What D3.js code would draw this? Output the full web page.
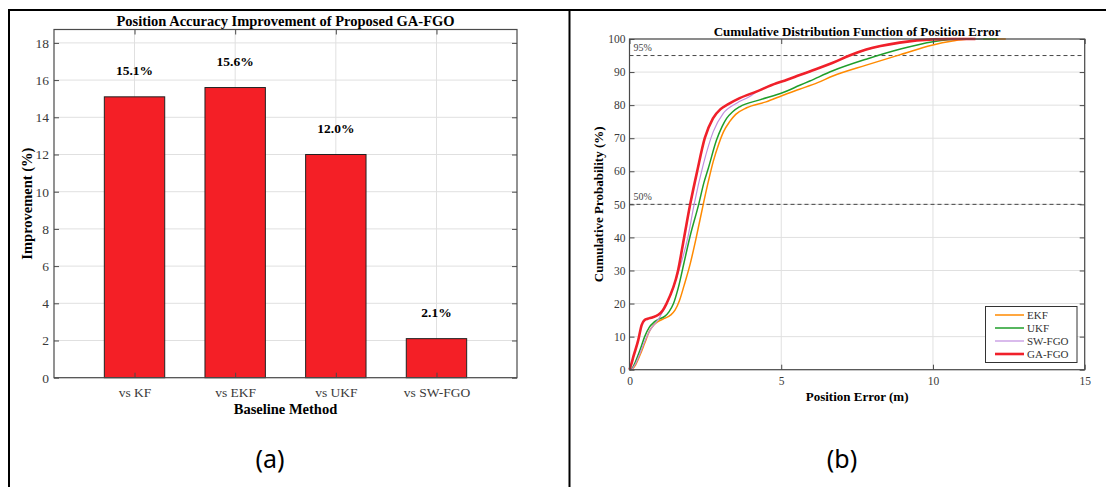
<!DOCTYPE html>
<html>
<head>
<meta charset="utf-8">
<script src="https://cdn.jsdelivr.net/npm/d3@7"></script>
<style>
  body { margin: 0; background: #fff; }
  svg text { font-family: "Liberation Serif", "Times New Roman", serif; }
</style>
</head>
<body>
<div id="chart"></div>
<script>
// (a) improvement bars
var methods = ["vs KF", "vs EKF", "vs UKF", "vs SW-FGO"];
var improvement = [15.1, 15.6, 12.0, 2.1];
var barTicks = [0, 2, 4, 6, 8, 10, 12, 14, 16, 18];

// (b) CDF curves
var cdfNames = ["EKF", "UKF", "SW-FGO", "GA-FGO"];
var ekfError = [0, 0.1, 0.2, 0.35, 0.5, 0.65, 0.8, 0.95, 1.15, 1.35, 1.5, 1.65, 1.8, 2.0, 2.2, 2.43, 2.6, 2.76, 2.95, 3.1, 3.3, 3.5, 3.86, 4.5, 5.06, 5.6, 6.2, 6.7, 7.8, 8.9, 10.0, 10.6, 11.1, 12.4];
var ekfProb  = [0, 0.3, 1.5, 4.5, 8, 11.5, 13.5, 14.6, 15.5, 16.5, 18, 21, 25.5, 32, 40, 50, 57, 63, 68.5, 72, 75, 77.2, 79.2, 81, 83, 84.8, 86.8, 88.8, 92.1, 95.2, 98.2, 99.3, 99.9, 100];
var ukfError = [0, 0.1, 0.2, 0.35, 0.5, 0.65, 0.8, 0.95, 1.17, 1.3, 1.45, 1.6, 1.8, 2.0, 2.28, 2.45, 2.6, 2.87, 3.05, 3.2, 3.4, 3.63, 4.29, 5.06, 5.61, 5.94, 6.7, 7.8, 8.9, 10.0, 10.9, 12.1];
var ukfProb  = [0, 0.6, 2.5, 6, 10, 12.8, 14.3, 15.2, 16.2, 17.5, 20, 24.5, 32.5, 40.5, 50, 56.5, 61, 69.5, 73.5, 76, 78, 79.5, 81.6, 83.8, 86, 87.3, 90.4, 93.9, 96.9, 99.2, 100, 100];
var swError  = [0, 0.1, 0.2, 0.35, 0.5, 0.65, 0.8, 0.95, 1.06, 1.28, 1.61, 1.93, 2.13, 2.43, 2.76, 3.09, 3.53, 3.96, 4.18, 4.84, 5.17, 5.61, 5.94, 6.7, 7.25, 7.8, 8.9, 10.0, 10.6, 11.65];
var swProb   = [0, 0.4, 1.8, 5, 8.5, 11.5, 13.5, 15.2, 17, 21, 29.5, 40.3, 50, 62, 72, 77.5, 80.6, 82.6, 84.0, 86.6, 87.6, 89.1, 90.2, 92.8, 95, 96.8, 98.9, 99.9, 100, 100];
var gaError  = [0, 0.07, 0.13, 0.29, 0.4, 0.5, 0.6, 0.75, 0.95, 1.1, 1.22, 1.6, 1.8, 2.0, 2.23, 2.48, 2.75, 3.0, 3.24, 3.63, 4.18, 4.84, 5.17, 5.61, 5.94, 6.7, 7.25, 7.8, 8.9, 10.0, 10.6, 11.4];
var gaProb   = [0, 2, 4, 9, 13.5, 15, 15.4, 15.8, 16.6, 18, 20, 30, 40, 50, 60, 70, 76, 78.8, 80.2, 82.1, 84.1, 86.6, 87.6, 89.1, 90.2, 92.8, 95, 96.8, 98.9, 99.9, 100, 100];
var cdfTicksX = [0, 5, 10, 15];
var cdfTicksY = [0, 10, 20, 30, 40, 50, 60, 70, 80, 90, 100];
var refLevels = [95, 50];

var SERIF = "Liberation Serif, Times New Roman, serif",
    BAR_FILL = "#f41f26",
    AXIS_COLOR = "#4a4a4a",
    GRID_COLOR = "#e0e0e0",
    TICK_TEXT = "#3a3a3a",
    cdfColors = ["#ff8a00", "#1f9e2a", "#c08ee0", "#f0202a"],
    cdfWidths = [1.5, 1.5, 1.2, 2.6];

var svg = d3.select("#chart").append("svg")
  .attr("width", 1106)
  .attr("height", 487);

// figure frame
svg.append("line").attr("x1", 8).attr("x2", 1106).attr("y1", 10).attr("y2", 10)
  .attr("stroke", "#000").attr("stroke-width", 2);
svg.append("line").attr("x1", 9).attr("x2", 9).attr("y1", 9).attr("y2", 487)
  .attr("stroke", "#000").attr("stroke-width", 2);
svg.append("line").attr("x1", 569.5).attr("x2", 569.5).attr("y1", 9).attr("y2", 487)
  .attr("stroke", "#000").attr("stroke-width", 2);

function styleAxis(g) {
  g.attr("font-family", SERIF);
  g.select(".domain").remove();
  g.selectAll(".tick line").attr("stroke", AXIS_COLOR);
  g.selectAll(".tick text").attr("fill", TICK_TEXT).style("font-family", SERIF);
}

// ---------- (a) bar chart ----------
var a = {left: 54, right: 517, top: 29.5, bottom: 377.7};
var x = d3.scalePoint().domain(methods).range([a.left, a.right]).padding(0.8);
var y = d3.scaleLinear().domain([0, 18.72]).range([a.bottom, a.top]);
var barW = x.step() * 0.6;
var ga = svg.append("g");

// grid
ga.selectAll("line.hgrid").data(barTicks).enter().append("line")
  .attr("x1", a.left).attr("x2", a.right)
  .attr("y1", function(d) { return y(d); }).attr("y2", function(d) { return y(d); })
  .attr("stroke", GRID_COLOR);
ga.selectAll("line.vgrid").data(methods).enter().append("line")
  .attr("x1", function(d) { return x(d); }).attr("x2", function(d) { return x(d); })
  .attr("y1", a.top).attr("y2", a.bottom)
  .attr("stroke", GRID_COLOR);

// bars
ga.selectAll("rect.bar").data(improvement).enter().append("rect")
  .attr("x", function(d, i) { return x(methods[i]) - barW / 2; })
  .attr("y", function(d) { return y(d); })
  .attr("width", barW)
  .attr("height", function(d) { return y(0) - y(d); })
  .attr("fill", BAR_FILL)
  .attr("stroke", "#222")
  .attr("stroke-width", 1);

// axes
ga.append("g").attr("transform", "translate(" + a.left + ",0)")
  .call(d3.axisLeft(y).tickValues(barTicks).tickSizeInner(-5).tickSizeOuter(0).tickPadding(5))
  .attr("font-size", 13.5).call(styleAxis);
ga.append("g").attr("transform", "translate(" + a.right + ",0)")
  .call(d3.axisRight(y).tickValues(barTicks).tickSizeInner(-5).tickSizeOuter(0).tickFormat(""))
  .call(styleAxis);
ga.append("g").attr("transform", "translate(0," + a.bottom + ")")
  .call(d3.axisBottom(x).tickSizeInner(-5).tickSizeOuter(0).tickPadding(10))
  .attr("font-size", 13.5).call(styleAxis);
ga.append("g").attr("transform", "translate(0," + a.top + ")")
  .call(d3.axisTop(x).tickSizeInner(-5).tickSizeOuter(0).tickFormat(""))
  .call(styleAxis);
ga.append("rect")
  .attr("x", a.left).attr("y", a.top)
  .attr("width", a.right - a.left).attr("height", a.bottom - a.top)
  .attr("fill", "none").attr("stroke", AXIS_COLOR).attr("stroke-width", 1.2);

// value labels
ga.selectAll("text.val").data(improvement).enter().append("text")
  .attr("x", function(d, i) { return x(methods[i]); })
  .attr("y", function(d) { return y(d + 1.15); })
  .attr("text-anchor", "middle")
  .attr("font-weight", "bold")
  .attr("font-size", 13.5)
  .text(function(d) { return d.toFixed(1) + "%"; });

ga.append("text")
  .attr("x", (a.left + a.right) / 2).attr("y", 25.5)
  .attr("text-anchor", "middle").attr("font-weight", "bold").attr("font-size", 14.5)
  .text("Position Accuracy Improvement of Proposed GA-FGO");
ga.append("text")
  .attr("x", (a.left + a.right) / 2).attr("y", 414)
  .attr("text-anchor", "middle").attr("font-weight", "bold").attr("font-size", 14.5)
  .text("Baseline Method");
ga.append("text")
  .attr("transform", "translate(32," + ((a.top + a.bottom) / 2) + ") rotate(-90)")
  .attr("text-anchor", "middle").attr("font-weight", "bold").attr("font-size", 14.5)
  .text("Improvement (%)");
ga.append("text")
  .attr("x", 270).attr("y", 468)
  .attr("text-anchor", "middle").attr("font-size", 25)
  .style("font-family", "'Noto Sans', sans-serif")
  .text("(a)");

// ---------- (b) CDF ----------
var b = {left: 629.5, right: 1084.7, top: 39, bottom: 369.7};
var xe = d3.scaleLinear().domain([0, 15]).range([b.left, b.right]);
var yp = d3.scaleLinear().domain([0, 100]).range([b.bottom, b.top]);
var gb = svg.append("g");

gb.selectAll("line.hgrid").data(cdfTicksY).enter().append("line")
  .attr("x1", b.left).attr("x2", b.right)
  .attr("y1", function(d) { return yp(d); }).attr("y2", function(d) { return yp(d); })
  .attr("stroke", GRID_COLOR);
gb.selectAll("line.vgrid").data(cdfTicksX).enter().append("line")
  .attr("x1", function(d) { return xe(d); }).attr("x2", function(d) { return xe(d); })
  .attr("y1", b.top).attr("y2", b.bottom)
  .attr("stroke", GRID_COLOR);

// reference levels
gb.selectAll("line.ref").data(refLevels).enter().append("line")
  .attr("x1", b.left).attr("x2", b.right)
  .attr("y1", function(d) { return yp(d); }).attr("y2", function(d) { return yp(d); })
  .attr("stroke", "#333").attr("stroke-width", 0.9).attr("stroke-dasharray", "4,3");
gb.selectAll("text.ref").data(refLevels).enter().append("text")
  .attr("x", b.left + 4)
  .attr("y", function(d) { return yp(d) - 4.5; })
  .attr("font-size", 10).attr("fill", "#444")
  .text(function(d) { return d + "%"; });

var cdfData = [
  d3.zip(ekfError, ekfProb),
  d3.zip(ukfError, ukfProb),
  d3.zip(swError, swProb),
  d3.zip(gaError, gaProb)
];
var line = d3.line()
  .x(function(d) { return xe(d[0]); })
  .y(function(d) { return yp(d[1]); })
  .curve(d3.curveMonotoneX);

gb.selectAll("path.cdf").data(cdfData).enter().append("path")
  .attr("d", line)
  .attr("fill", "none")
  .attr("stroke", function(d, i) { return cdfColors[i]; })
  .attr("stroke-width", function(d, i) { return cdfWidths[i]; })
  .attr("stroke-linejoin", "round");

gb.append("g").attr("transform", "translate(" + b.left + ",0)")
  .call(d3.axisLeft(yp).tickValues(cdfTicksY).tickSizeInner(-5).tickSizeOuter(0).tickPadding(4))
  .attr("font-size", 11.5).call(styleAxis);
gb.append("g").attr("transform", "translate(" + b.right + ",0)")
  .call(d3.axisRight(yp).tickValues(cdfTicksY).tickSizeInner(-5).tickSizeOuter(0).tickFormat(""))
  .call(styleAxis);
gb.append("g").attr("transform", "translate(0," + b.bottom + ")")
  .call(d3.axisBottom(xe).tickValues(cdfTicksX).tickSizeInner(-5).tickSizeOuter(0).tickPadding(7))
  .attr("font-size", 11.5).call(styleAxis);
gb.append("g").attr("transform", "translate(0," + b.top + ")")
  .call(d3.axisTop(xe).tickValues(cdfTicksX).tickSizeInner(-5).tickSizeOuter(0).tickFormat(""))
  .call(styleAxis);
gb.append("rect")
  .attr("x", b.left).attr("y", b.top)
  .attr("width", b.right - b.left).attr("height", b.bottom - b.top)
  .attr("fill", "none").attr("stroke", AXIS_COLOR).attr("stroke-width", 1.2);

gb.append("text")
  .attr("x", (b.left + b.right) / 2).attr("y", 35.5)
  .attr("text-anchor", "middle").attr("font-weight", "bold").attr("font-size", 13)
  .text("Cumulative Distribution Function of Position Error");
gb.append("text")
  .attr("x", (b.left + b.right) / 2).attr("y", 401)
  .attr("text-anchor", "middle").attr("font-weight", "bold").attr("font-size", 13)
  .text("Position Error (m)");
gb.append("text")
  .attr("transform", "translate(602.5," + ((b.top + b.bottom) / 2) + ") rotate(-90)")
  .attr("text-anchor", "middle").attr("font-weight", "bold").attr("font-size", 13)
  .text("Cumulative Probability (%)");

// legend
var lg = gb.append("g");
lg.append("rect")
  .attr("x", 985.5).attr("y", 306.5).attr("width", 91.5).attr("height", 56)
  .attr("fill", "#fff").attr("stroke", "#333").attr("stroke-width", 1);
var items = lg.selectAll("g.item").data(cdfNames).enter().append("g")
  .attr("transform", function(d, i) { return "translate(995," + (315 + i * 13) + ")"; });
items.append("line")
  .attr("x1", 0).attr("x2", 29)
  .attr("stroke", function(d, i) { return cdfColors[i]; })
  .attr("stroke-width", function(d, i) { return cdfWidths[i]; });
items.append("text")
  .attr("x", 32).attr("y", 4)
  .attr("font-size", 11).attr("fill", "#333")
  .text(function(d) { return d; });

gb.append("text")
  .attr("x", 842).attr("y", 468)
  .attr("text-anchor", "middle").attr("font-size", 25)
  .style("font-family", "'Noto Sans', sans-serif")
  .text("(b)");
</script>
</body>
</html>
